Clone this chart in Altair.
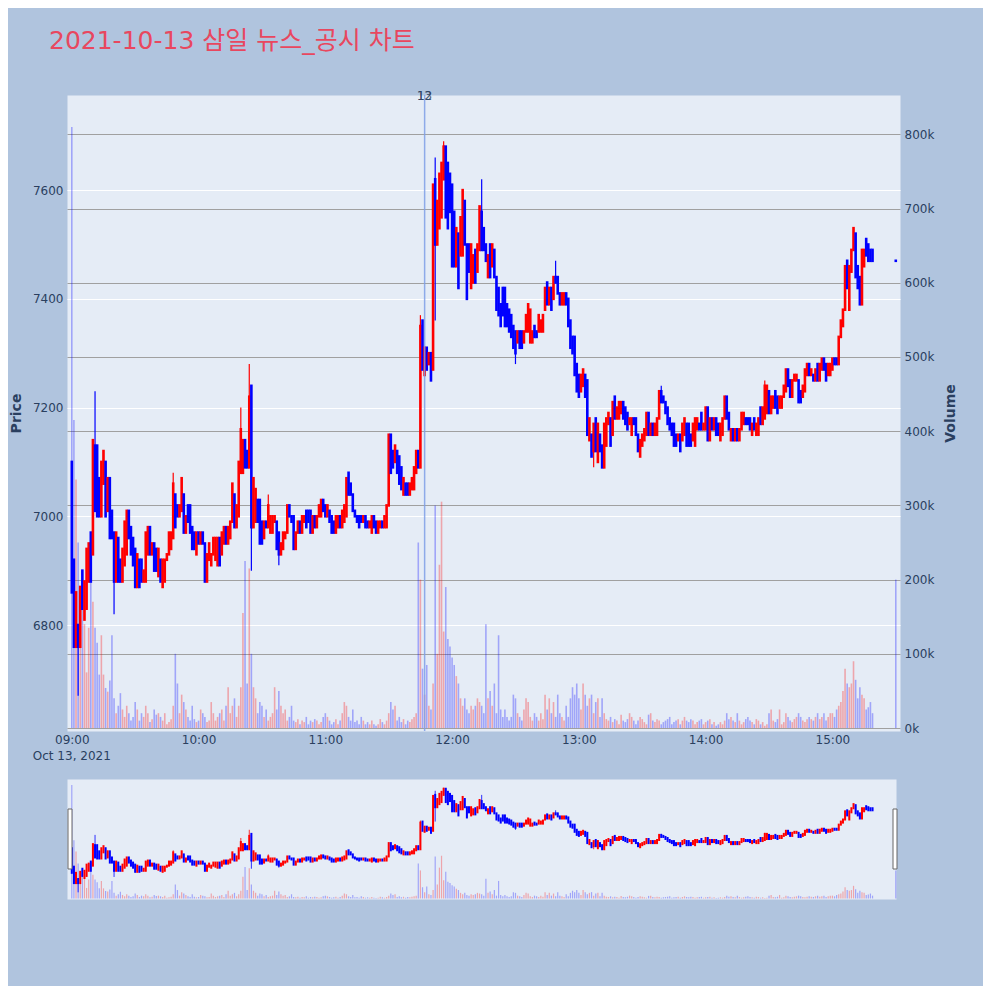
import altair as alt
import pandas as pd

TITLE = "2021-10-13 삼일 뉴스_공시 차트"

# 1-minute candles (open, close[, high, low]) from 09:00
seg_a = [
    (7100, 6860), (6920, 6760), (6760, 6860), (6800, 6760, 6800, 6670), (6760, 6870),
    (6900, 6830), (6810, 6880), (6830, 6940), (6880, 6950), (6970, 6880),
    (6930, 7140), (7130, 7010, 7230, 7010), (7130, 7000), (7070, 7000), (7000, 7100),
    (7060, 7120), (7100, 7000), (7010, 7070), (7070, 6960), (7010, 6960),
    (6970, 6880, 6970, 6820), (6880, 6970), (6960, 6880), (6920, 6880), (6880, 6940),
    (6910, 6990), (6930, 7010), (7010, 6960), (6980, 6930), (6960, 6910),
    (6940, 6870), (6870, 6930), (6920, 6870), (6920, 6880), (6880, 6900),
    (6880, 6970), (6930, 6980), (6980, 6930), (6930, 6950), (6950, 6900),
    (6940, 6900), (6890, 6940), (6920, 6880), (6870, 6920), (6880, 6920),
    (6920, 6930), (6930, 6970), (6940, 6970), (6960, 7060, 7080, 6960), (7040, 6980),
    (7020, 7000), (7000, 7020), (7010, 7070), (7040, 6970), (6970, 7000),
    (7020, 6990), (7020, 6970), (6980, 6940), (6970, 6940), (6930, 6970),
    (6970, 6950), (6950, 6970), (6970, 6950), (6950, 6880), (6880, 6930),
    (6920, 6950), (6910, 6930), (6930, 6960), (6920, 6960), (6910, 6960),
    (6960, 6910), (6930, 6970), (6950, 6980), (6980, 6950), (6950, 6980),
    (6960, 6990), (6990, 7060), (7040, 6980), (6980, 7020),
]
seg_b = [
    (7000, 7100), (7080, 7160, 7200, 7080), (7080, 7140), (7140, 7090), (7120, 7090),
    (7090, 7220, 7280, 7090), (7240, 6980, 7240, 6900), (6980, 7070), (6990, 7050), (7030, 6990),
    (7030, 6950), (6990, 6950), (6960, 6990), (6990, 6980), (6980, 7020, 7040, 6980),
    (6970, 7000), (6970, 7000), (6990, 7000), (6990, 6940), (6970, 6930, 6970, 6910),
    (6930, 6950), (6940, 6970), (6960, 6970), (6970, 7020), (7020, 7000),
    (7000, 6990), (7000, 6940), (6940, 6970), (6970, 6990), (6990, 6970),
    (6970, 7000), (6990, 7000), (7010, 6980), (7010, 6990), (7010, 6970),
    (6970, 7000), (7000, 6980), (6980, 7000), (7000, 7020), (7000, 7030),
    (7030, 7010), (7020, 7000), (7000, 7020), (7010, 6990), (7000, 6970),
    (6990, 6970), (6970, 7000), (6980, 7000), (7000, 6980), (6980, 7010),
    (6990, 7020), (7000, 7070), (7080, 7040), (7060, 7040), (7040, 7010),
    (7010, 7000), (7000, 6990), (7000, 6980), (7000, 6990), (6990, 7000),
    (7000, 6980), (6990, 6980), (6980, 6990), (6970, 7000), (7000, 6980),
    (6990, 6970), (6970, 6990), (6980, 6990), (6990, 6980), (6980, 7000),
    (6980, 7020), (7020, 7150), (7150, 7080), (7120, 7090), (7100, 7130),
    (7120, 7080), (7110, 7060), (7090, 7050), (7040, 7070), (7060, 7040),
    (7060, 7040), (7040, 7060), (7050, 7070), (7050, 7090), (7080, 7120),
    (7120, 7090),
]
seg_c = [
    (7090, 7350, 7370, 7090), (7360, 7270), (7260, 7310), (7310, 7270), (7280, 7300),
    (7300, 7250),
]
seg_d = [
    (7270, 7610), (7620, 7500, 7660, 7360), (7500, 7580), (7530, 7630), (7550, 7650),
    (7620, 7680, 7690, 7620), (7680, 7550), (7650, 7530), (7630, 7560), (7610, 7460),
    (7560, 7460), (7460, 7530), (7520, 7420), (7480, 7550), (7480, 7600),
    (7580, 7500), (7500, 7400), (7500, 7450), (7420, 7500), (7430, 7480),
    (7490, 7430), (7450, 7500), (7490, 7570), (7560, 7490, 7620, 7490), (7530, 7490),
    (7500, 7470), (7440, 7480), (7500, 7440), (7460, 7500), (7490, 7440),
    (7440, 7380), (7420, 7370), (7390, 7350), (7420, 7370), (7420, 7350),
    (7390, 7350), (7380, 7340), (7370, 7330), (7350, 7310), (7340, 7300, 7340, 7280),
    (7320, 7340), (7340, 7310), (7340, 7310), (7320, 7340), (7340, 7370),
    (7340, 7390), (7320, 7380), (7320, 7340), (7350, 7330), (7340, 7330),
    (7340, 7370), (7340, 7360), (7340, 7370), (7380, 7420), (7430, 7390),
    (7390, 7420), (7420, 7380), (7400, 7440), (7440, 7430, 7470, 7430), (7440, 7410),
    (7410, 7390), (7390, 7410), (7390, 7410), (7410, 7390), (7400, 7350),
    (7360, 7310), (7330, 7300), (7330, 7260), (7280, 7230), (7260, 7220),
    (7230, 7260), (7240, 7270), (7260, 7220),
]
seg_e = [
    (7250, 7150), (7140, 7180), (7150, 7110), (7120, 7170, 7170, 7090), (7180, 7120),
    (7100, 7170), (7150, 7120), (7130, 7090), (7090, 7170), (7130, 7180),
    (7170, 7190), (7180, 7130), (7150, 7210), (7220, 7180), (7180, 7200),
    (7180, 7210), (7190, 7210), (7210, 7180), (7200, 7170), (7190, 7160),
    (7170, 7180), (7150, 7180), (7180, 7170), (7180, 7150), (7150, 7120),
    (7110, 7140), (7130, 7150), (7140, 7160), (7150, 7190), (7190, 7150),
    (7150, 7170), (7170, 7150), (7150, 7170), (7150, 7180), (7180, 7230),
    (7230, 7210, 7240, 7210), (7220, 7210), (7210, 7190), (7200, 7170), (7180, 7160),
    (7170, 7150), (7170, 7130), (7150, 7130), (7140, 7150), (7150, 7120),
    (7140, 7170), (7150, 7180), (7170, 7130), (7170, 7130), (7150, 7130),
    (7140, 7170), (7130, 7180), (7160, 7180), (7170, 7160), (7190, 7160),
    (7160, 7170), (7160, 7200), (7200, 7140), (7140, 7180), (7180, 7160),
    (7160, 7180), (7180, 7150), (7170, 7150), (7140, 7170), (7150, 7180),
    (7180, 7220), (7220, 7180), (7190, 7160), (7140, 7160), (7160, 7140),
    (7140, 7160), (7160, 7140), (7140, 7160), (7160, 7190), (7170, 7190),
]
seg_f = [
    (7180, 7170), (7180, 7170), (7180, 7160), (7150, 7170), (7180, 7160),
    (7150, 7170), (7150, 7180), (7200, 7170), (7170, 7200), (7180, 7240, 7250, 7180),
    (7190, 7240), (7230, 7190), (7190, 7220), (7200, 7220), (7230, 7200),
    (7220, 7190), (7200, 7220), (7200, 7220), (7220, 7240), (7230, 7270),
    (7270, 7240), (7250, 7220), (7220, 7250), (7250, 7260), (7250, 7260),
    (7250, 7210), (7230, 7210), (7220, 7240), (7230, 7270), (7260, 7280),
    (7280, 7260), (7260, 7270), (7260, 7250), (7250, 7270), (7280, 7250),
    (7250, 7280), (7270, 7290), (7290, 7270), (7280, 7250), (7260, 7280),
    (7260, 7280), (7270, 7290), (7290, 7280), (7290, 7280), (7280, 7330),
    (7330, 7360), (7350, 7380), (7380, 7460), (7470, 7420), (7380, 7460),
    (7450, 7490), (7490, 7530), (7520, 7440), (7460, 7420), (7440, 7390),
    (7390, 7490), (7460, 7490), (7510, 7480), (7500, 7470), (7490, 7470),
    (7490, 7470),
]
close_auction = (7470, 7470)
close_minute = 390

# volume per candle, in thousands of shares
volume_k = [
    810, 415, 335, 250, 120, 180, 140, 75, 135, 260,
    170, 135, 115, 72, 125, 72, 54, 49, 64, 125,
    40, 20, 30, 47, 25, 15, 30, 20, 10, 15,
    35, 25, 10, 20, 15, 30, 20, 8, 12, 25,
    18, 20, 15, 10, 20, 5, 8, 12, 30, 100,
    60, 20, 45, 35, 25, 15, 10, 30, 12, 8,
    10, 25, 20, 15, 8, 10, 35, 20, 10, 15,
    20, 25, 10, 30, 55, 20, 30, 40, 15, 30,
    55, 155, 225, 60, 215, 100, 55, 40, 20, 35,
    30, 15, 25, 10, 15, 20, 55, 25, 50, 30,
    20, 25, 10, 15, 30, 10, 8, 12, 5, 10,
    8, 15, 5, 10, 8, 12, 10, 5, 8, 15,
    20, 15, 10, 5, 8, 12, 5, 10, 20, 35,
    30, 15, 10, 25, 8, 10, 5, 15, 10, 5,
    8, 5, 10, 5, 3, 5, 12, 8, 5, 10,
    20, 35, 25, 30, 10, 15, 8, 12, 5, 10,
    8, 12, 15, 20, 250, 200, 80, 45, 85, 30,
    25, 60, 300, 100, 220, 305, 130, 190, 120, 110,
    95, 85, 70, 60, 40, 30, 40, 25, 20, 30,
    25, 30, 40, 35, 30, 20, 140, 40, 50, 30,
    60, 20, 125, 25, 15, 25, 15, 10, 15, 45,
    40, 20, 15, 10, 25, 40, 35, 15, 10, 20,
    15, 10, 20, 12, 45, 25, 40, 20, 35, 15,
    45, 20, 15, 10, 30, 15, 40, 55, 45, 60,
    40, 25, 60, 45, 30, 40, 45, 20, 35, 40,
    15, 40, 20, 12, 10, 15, 8, 12, 10, 5,
    18, 10, 8, 12, 20, 15, 10, 5, 10, 15,
    12, 8, 5, 18, 20, 10, 8, 12, 10, 5,
    8, 10, 12, 15, 5, 8, 10, 12, 5, 10,
    15, 10, 8, 12, 10, 5, 8, 10, 12, 5,
    8, 10, 12, 5, 8, 3, 5, 8, 5, 10,
    20, 12, 15, 10, 8, 20, 10, 5, 8, 12,
    15, 10, 8, 5, 12, 10, 5, 8, 3, 5,
    20, 25, 10, 8, 12, 25, 5, 8, 20, 15,
    10, 8, 12, 15, 20, 15, 10, 8, 12, 15,
    12, 10, 15, 20, 12, 15, 20, 10, 15, 20,
    20, 15, 25, 30, 35, 50, 80, 60, 55, 60,
    90, 65, 40, 55, 45, 40, 25, 28, 35, 20,
    200,
]

news_minute = 167
news_labels = ["12", "13"]
hour_ticks = [0, 60, 120, 180, 240, 300, 360]
price_ticks = [6800, 7000, 7200, 7400, 7600]
volume_ticks = [0, 100000, 200000, 300000, 400000, 500000, 600000, 700000, 800000]
date_label = "Oct 13, 2021"

candles = seg_a + seg_b + seg_c + seg_d + seg_e + seg_f
minutes = list(range(len(candles))) + [close_minute]
candles = candles + [close_auction]

rows = []
for m, cd, v in zip(minutes, candles, volume_k):
    o, c = cd[0], cd[1]
    h = cd[2] if len(cd) > 2 else max(o, c)
    l = cd[3] if len(cd) > 3 else min(o, c)
    rows.append(dict(m=m, o=o, c=c, h=max(h, o, c), l=min(l, o, c), v=v * 1000,
                     d="up" if c > o else "down"))
df = pd.DataFrame(rows)

FONT = "DejaVu Sans"
TXT = "#2a3f5f"
W, H = 833, 636
SW, SH = 829, 120

xscale = alt.Scale(domain=[-2.27, 392.0], nice=False, zero=False, padding=0)
sxscale = alt.Scale(domain=[-2.27, 390.1], nice=False, zero=False, padding=0)
pscale = alt.Scale(domain=[6605, 7775], nice=False, zero=False, padding=0)
vscale = alt.Scale(domain=[-4000, 853000], nice=False, zero=False, padding=0)
cscale = alt.Scale(domain=["up", "down"], range=["#FF0000", "#0000FF"])

xaxis = alt.Axis(values=hour_ticks, grid=False, ticks=False, domain=False, title=None,
                 labelPadding=3, labelFontSize=12, labelColor=TXT, labelFont=FONT,
                 labelExpr="(datum.value/60+9 < 10 ? '0' : '') + (datum.value/60+9) + ':00'")
x_enc = alt.X("m:Q", scale=xscale, axis=xaxis)
sx_enc = alt.X("m:Q", scale=sxscale, axis=None)

base = alt.Chart(df)

vol = base.mark_bar(size=1.6, opacity=0.3).encode(
    x=x_enc,
    y=alt.Y("v:Q", scale=vscale, stack=None,
            axis=alt.Axis(orient="right", values=volume_ticks, format="~s", title="Volume",
                          grid=True, gridColor="#a0a0a0", gridWidth=1.2, ticks=False, domain=False,
                          labelPadding=4, labelFontSize=12, labelColor=TXT, labelFont=FONT,
                          titleFont=FONT, titleFontSize=14, titleFontWeight="bold", titleColor=TXT,
                          titleAngle=270, titlePadding=24)),
    color=alt.Color("d:N", scale=cscale, legend=None),
)

wick = base.mark_rule(strokeWidth=1.2).encode(
    x=x_enc,
    y=alt.Y("l:Q", scale=pscale,
            axis=alt.Axis(orient="left", values=price_ticks, format="d", title="Price",
                          grid=True, gridColor="#ffffff", gridWidth=1.2, ticks=False, domain=False,
                          labelPadding=4, labelFontSize=12, labelColor=TXT, labelFont=FONT,
                          titleFont=FONT, titleFontSize=14, titleFontWeight="bold", titleColor=TXT,
                          titlePadding=9)),
    y2="h:Q",
    color=alt.Color("d:N", scale=cscale, legend=None),
)
body = base.mark_rule(strokeWidth=2.6, strokeCap="square").encode(
    x=x_enc, y="o:Q", y2="c:Q",
    color=alt.Color("d:N", scale=cscale, legend=None),
)

news_df = pd.DataFrame({"m": [news_minute] * len(news_labels), "t": news_labels})
news_line = alt.Chart(news_df.head(1)).mark_rule(color="#7f9fe6", strokeWidth=1.5, opacity=0.85).encode(
    x=x_enc, y=alt.value(0), y2=alt.value(H))
news_text = alt.Chart(news_df).mark_text(font=FONT, fontSize=12, color=TXT, baseline="middle",
                                         opacity=0.8).encode(
    x=x_enc, y=alt.value(1), text="t:N")

date_text = alt.Chart(pd.DataFrame({"m": [0], "t": [date_label]})).mark_text(
    font=FONT, fontSize=12, color=TXT, baseline="middle").encode(
    x=x_enc, y=alt.value(H + 25), text="t:N")

title_text = alt.Chart(pd.DataFrame({"t": [TITLE]})).mark_text(
    font="DejaVu Sans, Noto Sans CJK KR", fontSize=25, color="#E8475F", align="left",
    baseline="alphabetic").encode(x=alt.value(-18), y=alt.value(-46), text="t:N")

price_layer = alt.layer(wick, body, news_line, news_text, date_text, title_text)
main = alt.layer(vol, price_layer).resolve_scale(y="independent").properties(width=W, height=H)

# range slider
s_vol = base.mark_bar(size=1.2, opacity=0.3).encode(
    x=sx_enc, y=alt.Y("v:Q", scale=vscale, stack=None, axis=None),
    color=alt.Color("d:N", scale=cscale, legend=None))
s_wick = base.mark_rule(strokeWidth=0.8).encode(
    x=sx_enc, y=alt.Y("l:Q", scale=pscale, axis=None), y2="h:Q",
    color=alt.Color("d:N", scale=cscale, legend=None))
s_body = base.mark_rule(strokeWidth=2.0, strokeCap="square").encode(
    x=sx_enc, y="o:Q", y2="c:Q", color=alt.Color("d:N", scale=cscale, legend=None))
handle_l = alt.Chart(pd.DataFrame({"k": [0]})).mark_rect(fill="white", stroke="#666666", strokeWidth=1).encode(
    x=alt.value(1), x2=alt.value(5), y=alt.value(30), y2=alt.value(90))
handle_r = alt.Chart(pd.DataFrame({"k": [0]})).mark_rect(fill="white", stroke="#666666", strokeWidth=1).encode(
    x=alt.value(826), x2=alt.value(830), y=alt.value(30), y2=alt.value(90))
slider = alt.layer(s_vol, alt.layer(s_wick, s_body, handle_l, handle_r)).resolve_scale(
    y="independent").properties(width=SW, height=SH)

chart = alt.vconcat(main, slider, spacing=48, bounds="flush").configure(
    background="#B0C4DE", padding={"left": 0, "top": 20, "right": 24, "bottom": 86}
).configure_view(fill="#E5ECF6", stroke="transparent")

chart.save("out.html", embed_options={"renderer": "svg", "actions": False})
